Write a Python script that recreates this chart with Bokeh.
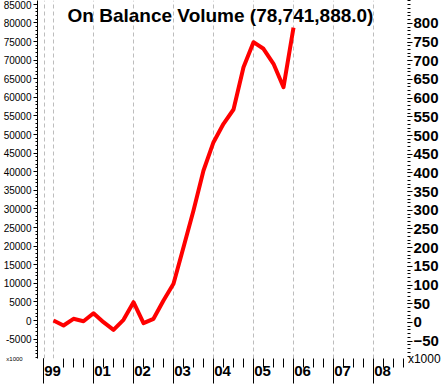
from bokeh.plotting import figure
from bokeh.models import (Range1d, LinearAxis, FixedTicker,
                          NumeralTickFormatter, Label)
from bokeh.embed import file_html
from bokeh.resources import INLINE

# ---- data ----
periods = [2000.00, 2000.25, 2000.50, 2000.75, 2001.00, 2001.25, 2001.50, 2001.75,
           2002.00, 2002.25, 2002.50, 2002.75, 2003.00, 2003.25, 2003.50, 2003.75,
           2004.00, 2004.25, 2004.50, 2004.75, 2005.00, 2005.25, 2005.50, 2005.75,
           2006.00]
obv = [0, -1344, 457, -188, 1962, -457, -2500, 188,
       4919, -726, 457, 5376, 9866, 19704, 29570, 40323,
       47930, 52876, 56720, 68090, 74812, 73040, 69000, 62714,
       78742]
year_tick_labels = ["99", "01", "02", "03", "04", "05", "06", "07", "08"]
year_tick_years = [1999.75, 2001, 2002, 2003, 2004, 2005, 2006, 2007, 2008]
grid_years = [1999.775, 2000, 2001, 2002, 2003, 2004, 2005, 2006, 2007, 2008]
left_ticks = [-5000, 0, 5000, 10000, 15000, 20000, 25000, 30000, 35000, 40000,
              45000, 50000, 55000, 60000, 65000, 70000, 75000, 80000, 85000]
right_ticks = [-50, 0, 50, 100, 150, 200, 250, 300, 350, 400, 450, 500, 550,
               600, 650, 700, 750, 800]
title_text = "On Balance Volume (78,741,888.0)"
unit_text = "x1000"

def q(yr):
    return round((yr - 2000) * 4, 3)

xs = [q(t) for t in periods]
bar_pos = [q(t) for t in year_tick_years]
label_pos = [round(b + 0.9, 3) for b in bar_pos]   # labels sit just right of the bars

p = figure(width=445, height=385, output_backend="svg", toolbar_location=None,
           x_range=Range1d(-1.6, 35.4), y_range=Range1d(-10215, 86022),
           min_border_left=37, min_border_right=38, min_border_top=0,
           min_border_bottom=27)
p.outline_line_color = None
p.background_fill_color = "white"
p.border_fill_color = "white"

p.extra_y_ranges = {"right": Range1d(-96.3, 861)}

# x axis 1: tick bars only (no labels, no extent)
xa = p.xaxis[0]
xa.ticker = FixedTicker(ticks=bar_pos,
                        minor_ticks=[i for i in range(-1, 36) if i % 4 != 0 or i < 0])
xa.axis_line_color = None
xa.major_tick_in = -25
xa.major_tick_out = 0
xa.minor_tick_in = -9
xa.minor_tick_out = 0
xa.major_tick_line_color = "black"
xa.minor_tick_line_color = "black"
xa.major_label_standoff = 0
xa.major_label_text_font_size = "0px"
xa.major_label_overrides = {b: "" for b in bar_pos}

# x axis 2: year labels only
xl = LinearAxis(ticker=FixedTicker(ticks=label_pos, minor_ticks=[]))
xl.major_label_overrides = {lp: lab for lp, lab in zip(label_pos, year_tick_labels)}
xl.axis_line_color = None
xl.major_tick_line_color = None
xl.minor_tick_line_color = None
xl.major_tick_in = 0
xl.major_tick_out = 0
xl.minor_tick_in = 0
xl.minor_tick_out = 0
xl.major_label_standoff = 7
xl.major_label_text_font = "Liberation Sans"
xl.major_label_text_font_style = "bold"
xl.major_label_text_font_size = "15px"
xl.major_label_text_color = "black"
p.add_layout(xl, "below")

# left axis
ya = p.yaxis[0]
ya.ticker = FixedTicker(ticks=left_ticks,
                        minor_ticks=[v for v in range(-10000, 86000, 1000)])
ya.formatter = NumeralTickFormatter(format="0")
ya.axis_line_color = "black"
ya.major_tick_in = 0
ya.major_tick_out = 4
ya.minor_tick_in = 0
ya.minor_tick_out = 2
ya.major_label_standoff = 2
ya.major_label_text_font = "Liberation Sans"
ya.major_label_text_font_size = "10px"
ya.major_label_text_color = "black"

# right axis
ra = LinearAxis(y_range_name="right",
                ticker=FixedTicker(ticks=right_ticks,
                                   minor_ticks=[v for v in range(-90, 870, 10)]))
ra.axis_line_color = None
ra.major_tick_in = 0
ra.major_tick_out = 5
ra.minor_tick_in = 0
ra.minor_tick_out = 3
ra.major_label_standoff = 1
ra.major_label_text_font = "Liberation Sans"
ra.major_label_text_font_style = "bold"
ra.major_label_text_font_size = "15px"
ra.major_label_text_color = "black"
p.add_layout(ra, "right")

# unit captions as horizontal axis labels at the bottom end of each y axis
for ax, size, standoff in ((ra, "12px", -34), (ya, "6px", -22)):
    ax.axis_label = unit_text
    ax.axis_label_orientation = "horizontal"
    ax.axis_label_standoff = standoff
    ax.axis_label_text_font = "Liberation Sans"
    ax.axis_label_text_font_style = "normal"
    ax.axis_label_text_font_size = size
    ax.axis_label_text_color = "black"
    ax.axis_label_align = "start"

# grid
p.ygrid.visible = False
p.xgrid.ticker = FixedTicker(ticks=[q(t) for t in grid_years])
p.xgrid.grid_line_color = "#BDBDBD"
p.xgrid.grid_line_dash = "4 3"
p.xgrid.grid_line_width = 1

# line
p.line(xs, obv, line_color="#FF0000", line_width=4, line_join="round")

# title inside plot
p.add_layout(Label(x=16.7, y=81990, text=title_text, text_align="center",
                   text_baseline="middle", text_font="Liberation Sans",
                   text_font_style="bold", text_font_size="19px", text_color="black"))

open("out.html", "w").write(file_html(p, INLINE))
